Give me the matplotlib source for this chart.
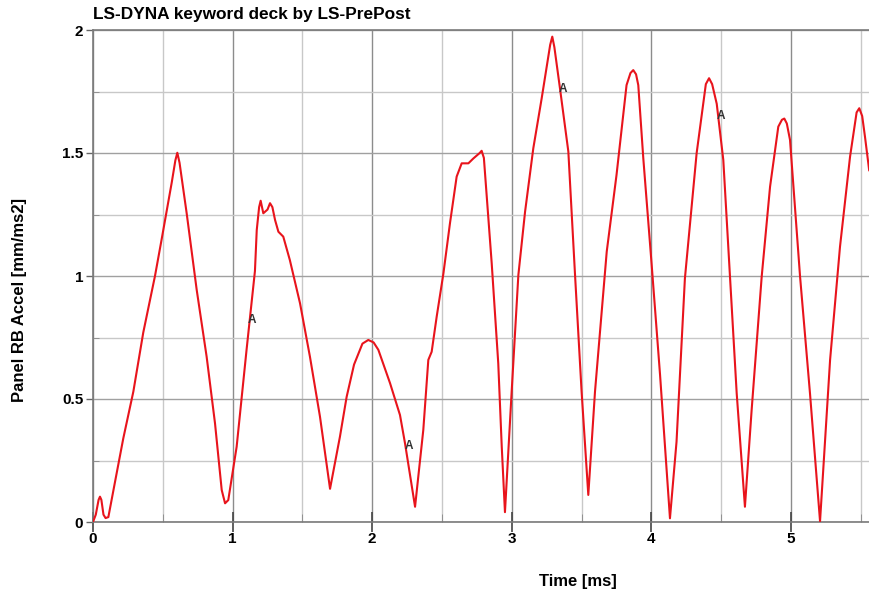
import matplotlib
matplotlib.use("Agg")
import matplotlib.pyplot as plt
from matplotlib.ticker import MultipleLocator

plt.rcParams['font.family'] = ['Liberation Sans', 'DejaVu Sans']

title = "LS-DYNA keyword deck by LS-PrePost"
xlabel = "Time [ms]"
ylabel = "Panel RB Accel [mm/ms2]"

time_ms = [0.0, 0.02, 0.04, 0.05, 0.06, 0.075, 0.09, 0.11, 0.16, 0.217, 0.289, 0.36, 0.444, 0.492,
           0.564, 0.59, 0.604, 0.62,
           0.671, 0.743, 0.814, 0.874, 0.922, 0.946, 0.969, 1.029, 1.10, 1.16, 1.173, 1.19, 1.201,
           1.22, 1.25, 1.268, 1.285, 1.304, 1.328, 1.363, 1.41, 1.483, 1.554, 1.626, 1.698, 1.769, 1.817,
           1.87, 1.93, 1.972, 2.01, 2.044, 2.128, 2.199, 2.235, 2.307, 2.366, 2.402, 2.426, 2.462, 2.51,
           2.557, 2.605, 2.641, 2.689, 2.725, 2.77, 2.784, 2.80, 2.856, 2.903, 2.928, 2.951, 2.999,
           3.047, 3.095, 3.154, 3.214, 3.275, 3.29, 3.305, 3.345, 3.405, 3.453, 3.50, 3.548, 3.596, 3.68,
           3.75, 3.822, 3.85, 3.87, 3.89, 3.906, 3.942, 4.002, 4.062, 4.133, 4.18, 4.24, 4.324, 4.39,
           4.413, 4.435, 4.468, 4.515, 4.563, 4.611, 4.67, 4.718, 4.79, 4.85, 4.909, 4.935, 4.952,
           4.97, 4.993, 5.065, 5.136, 5.208, 5.28, 5.351, 5.423, 5.47, 5.489, 5.51, 5.53, 5.56]
accel = [0.0, 0.03, 0.09, 0.103, 0.09, 0.03, 0.016, 0.02, 0.17, 0.34, 0.53, 0.77, 1.00, 1.15,
         1.38, 1.47, 1.501, 1.46,
         1.255, 0.943, 0.672, 0.401, 0.130, 0.076, 0.089, 0.306, 0.70, 1.02, 1.187, 1.28, 1.306,
         1.255, 1.27, 1.296, 1.28, 1.228, 1.18, 1.16, 1.065, 0.889, 0.672, 0.428, 0.135, 0.347, 0.509,
         0.64, 0.725, 0.74, 0.73, 0.70, 0.564, 0.435, 0.32, 0.062, 0.374, 0.659, 0.692, 0.835, 1.01,
         1.214, 1.404, 1.458, 1.458, 1.478, 1.50, 1.509, 1.48, 1.052, 0.645, 0.306, 0.04, 0.53,
         1.004, 1.261, 1.519, 1.722, 1.94, 1.973, 1.93, 1.763, 1.506, 1.004, 0.53, 0.11, 0.53, 1.099,
         1.41, 1.776, 1.825, 1.837, 1.82, 1.776, 1.478, 1.045, 0.598, 0.015, 0.326, 0.99, 1.499, 1.78,
         1.804, 1.78, 1.70, 1.472, 0.997, 0.523, 0.062, 0.455, 0.997, 1.363, 1.607, 1.635, 1.64,
         1.62, 1.553, 0.997, 0.523, 0.003, 0.659, 1.119, 1.485, 1.665, 1.682, 1.65, 1.566, 1.43]

label_t = [1.14, 2.26, 3.37, 4.50]
label_a = [0.82, 0.31, 1.76, 1.65]

fig = plt.figure(figsize=(8.69, 5.94), dpi=100)
ax = fig.add_axes([93/869, 1-522/594, 1-93/869, (522-30)/594])

ax.plot(time_ms, accel, color='#e8141c', lw=1.5, zorder=3, solid_joinstyle='round')
for t, a in zip(label_t, label_a):
    ax.text(t, a, "A", fontsize=8.5, fontweight='bold', color='#333333',
            ha='center', va='center', zorder=4)

ax.set_xlim(0, (869-93)/139.6)
ax.set_ylim(0, 2)
ax.xaxis.set_major_locator(MultipleLocator(1))
ax.xaxis.set_minor_locator(MultipleLocator(0.5))
ax.yaxis.set_major_locator(MultipleLocator(0.5))
ax.yaxis.set_minor_locator(MultipleLocator(0.25))
ax.set_yticks([0, 0.5, 1, 1.5, 2])
ax.set_yticklabels(["0", "0.5", "1", "1.5", "2"])

ax.grid(which='major', axis='x', color='#8c8c8c', lw=1.0)
ax.grid(which='minor', axis='x', color='#c8c8c8', lw=1.0)
ax.grid(which='major', axis='y', color='#a0a0a0', lw=1.0)
ax.grid(which='minor', axis='y', color='#c8c8c8', lw=1.0)
ax.set_axisbelow(True)

for s in ['left', 'bottom', 'top']:
    ax.spines[s].set_color('#7a7a7a')
    ax.spines[s].set_linewidth(1.2)
ax.spines['right'].set_visible(False)

ax.tick_params(axis='x', which='major', direction='inout', length=14, width=1.2, color='#444444',
               labelsize=11, pad=0)
ax.tick_params(axis='x', which='minor', direction='in', length=6, color='#888888')
ax.tick_params(axis='y', which='major', direction='out', length=5, width=1.0, color='#666666',
               labelsize=11, pad=2)
ax.tick_params(axis='y', which='minor', direction='in', length=4, color='#888888')
for lab in ax.get_xticklabels() + ax.get_yticklabels():
    lab.set_fontweight('bold')

ax.set_xlabel(xlabel, fontsize=12, fontweight='bold')
ax.xaxis.set_label_coords((578-93)/776, -(574-522)/492)
ax.set_ylabel(ylabel, fontsize=12, fontweight='bold')
ax.yaxis.set_label_coords(-(93-27)/776, (522-300)/492)

fig.text(93/869, 1-14/594, title, fontsize=12.4, fontweight='bold', ha='left', va='center')

fig.savefig("out.png", dpi=100)
